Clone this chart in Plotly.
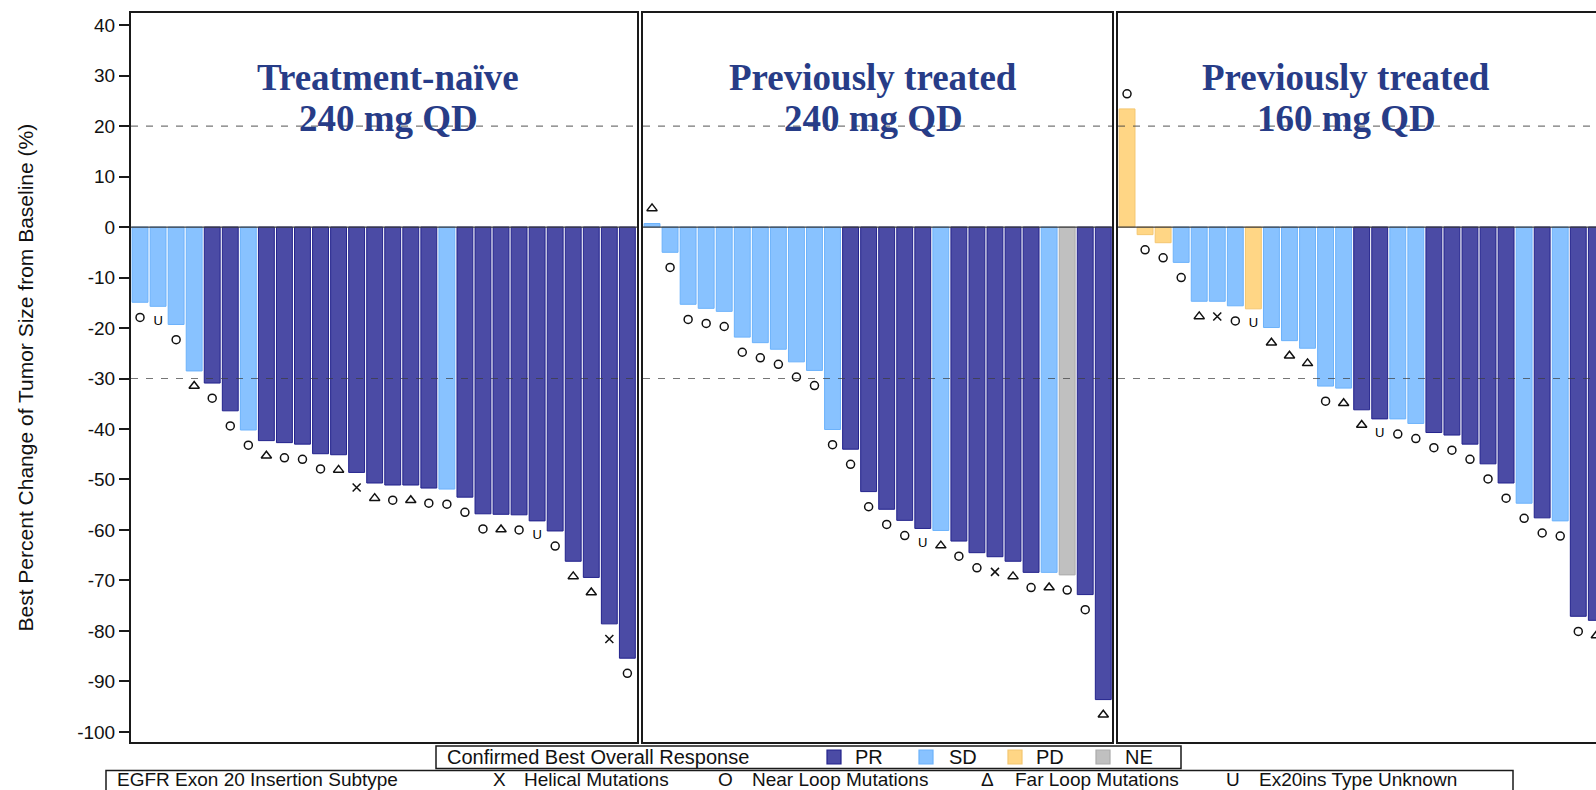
import plotly.graph_objects as go

# ---------------- data ----------------
title_line1 = ["Treatment-naïve", "Previously treated", "Previously treated"]
title_line2 = ["240 mg QD", "240 mg QD", "160 mg QD"]

naive240_change = [-14.9, -15.7, -19.3, -28.5, -30.9, -36.4, -40.2, -42.3, -42.7, -43.0,
                   -44.9, -45.1, -48.6, -50.7, -51.1, -51.1, -51.7, -51.9, -53.5, -56.8,
                   -56.9, -57.0, -58.2, -60.2, -66.2, -69.4, -78.6, -85.4]
naive240_response = ["SD", "SD", "SD", "SD", "PR", "PR", "SD", "PR", "PR", "PR",
                     "PR", "PR", "PR", "PR", "PR", "PR", "PR", "SD", "PR", "PR",
                     "PR", "PR", "PR", "PR", "PR", "PR", "PR", "PR"]
naive240_subtype = ["Near", "Unknown", "Near", "Far", "Near", "Near", "Near", "Far", "Near", "Near",
                    "Near", "Far", "Helical", "Far", "Near", "Far", "Near", "Near", "Near", "Near",
                    "Far", "Near", "Unknown", "Near", "Far", "Far", "Helical", "Near"]

pretx240_change = [0.7, -5.0, -15.3, -16.1, -16.7, -21.8, -22.9, -24.2, -26.7, -28.4,
                   -40.1, -44.0, -52.4, -55.9, -58.1, -59.7, -60.1, -62.2, -64.5, -65.3,
                   -66.2, -68.4, -68.4, -68.9, -72.8, -93.6]
pretx240_response = ["SD", "SD", "SD", "SD", "SD", "SD", "SD", "SD", "SD", "SD",
                     "SD", "PR", "PR", "PR", "PR", "PR", "SD", "PR", "PR", "PR",
                     "PR", "PR", "SD", "NE", "PR", "PR"]
pretx240_subtype = ["Far", "Near", "Near", "Near", "Near", "Near", "Near", "Near", "Near", "Near",
                    "Near", "Near", "Near", "Near", "Near", "Unknown", "Far", "Near", "Near", "Helical",
                    "Far", "Near", "Far", "Near", "Near", "Far"]

pretx160_change = [23.4, -1.5, -3.1, -7.0, -14.7, -14.7, -15.6, -16.2, -19.9, -22.5,
                   -24.0, -31.5, -31.9, -36.2, -38.0, -38.0, -38.9, -40.7, -41.2, -43.0,
                   -46.9, -50.7, -54.7, -57.6, -58.2, -77.1, -77.9]
pretx160_response = ["PD", "PD", "PD", "SD", "SD", "SD", "SD", "PD", "SD", "SD",
                     "SD", "SD", "SD", "PR", "PR", "SD", "SD", "PR", "PR", "PR",
                     "PR", "PR", "SD", "PR", "SD", "PR", "PR"]
pretx160_subtype = ["Near", "Near", "Near", "Near", "Far", "Helical", "Near", "Unknown", "Far", "Far",
                    "Far", "Near", "Far", "Far", "Unknown", "Near", "Near", "Near", "Near", "Near",
                    "Near", "Near", "Near", "Near", "Near", "Near", "Far"]

y_tick_values = [40, 30, 20, 10, 0, -10, -20, -30, -40, -50, -60, -70, -80, -90, -100]
y_tick_labels = ["40", "30", "20", "10", "0", "-10", "-20", "-30", "-40", "-50",
                 "-60", "-70", "-80", "-90", "-100"]
threshold_lines = [20, -30]

response_order = ["PR", "SD", "PD", "NE"]
subtype_order = ["Helical", "Near", "Far", "Unknown"]
subtype_glyph = ["X", "O", "Δ", "U"]
subtype_label = ["Helical Mutations", "Near Loop Mutations", "Far Loop Mutations", "Ex20ins Type Unknown"]

# ---------------- style ----------------
FILL = {"PR": "#4B4BA5", "SD": "#88C2FF", "PD": "#FFD685", "NE": "#C0C0C0"}
EDGE = {"PR": "#22228C", "SD": "#6CB2FB", "PD": "#F4C670", "NE": "#ABABAB"}
SYMBOL = {"Helical": "x-thin-open", "Near": "circle-open", "Far": "triangle-up-open"}
SYM_SIZE = {"Helical": 8, "Near": 8, "Far": 9}
MARKER_GAP = 3.0  # distance (in % units) of the subtype glyph from the bar end
TITLE_COLOR = "#273C87"
SANS = "Liberation Sans, Arial, sans-serif"
SERIF = "Liberation Serif, Times New Roman, serif"

FIG_W, FIG_H = 1596, 790
PLOT_L, PLOT_T, PLOT_B = 131, 13, 742
PLOT_W = FIG_W - PLOT_L
PLOT_H = PLOT_B - PLOT_T
PITCH = 18.05  # pixels per bar slot


def px_x(px):
    return (px - PLOT_L) / PLOT_W


def px_y(py):
    return (PLOT_B - py) / PLOT_H


panel_px = [(131, 637), (643, 1112), (1118, 1596)]
Y_RANGE = [-102.0, 42.4]

panels = [
    (naive240_change, naive240_response, naive240_subtype),
    (pretx240_change, pretx240_response, pretx240_subtype),
    (pretx160_change, pretx160_response, pretx160_subtype),
]

fig = go.Figure()
shapes = []
annotations = []

for k, (change, resp, sub) in enumerate(panels):
    ax = "" if k == 0 else str(k + 1)
    xs = list(range(1, len(change) + 1))
    fig.add_trace(go.Bar(
        x=xs, y=change, width=0.88,
        marker=dict(color=[FILL[r] for r in resp],
                    line=dict(color=[EDGE[r] for r in resp], width=1)),
        xaxis="x" + ax, yaxis="y" + ax, showlegend=False, hoverinfo="x+y"))
    for s in subtype_order:
        idx = [i for i, t in enumerate(sub) if t == s]
        if not idx:
            continue
        sx = [xs[i] for i in idx]
        sy = [change[i] - MARKER_GAP if change[i] < 0 else change[i] + MARKER_GAP for i in idx]
        if s == "Unknown":
            fig.add_trace(go.Scatter(
                x=sx, y=sy, mode="text", text=["U"] * len(sx),
                textposition="middle center",
                textfont=dict(family=SANS, size=13, color="#000000"),
                xaxis="x" + ax, yaxis="y" + ax, showlegend=False))
        else:
            fig.add_trace(go.Scatter(
                x=sx, y=sy, mode="markers",
                marker=dict(symbol=SYMBOL[s], size=SYM_SIZE[s], color="#111111",
                            line=dict(color="#111111", width=1.5)),
                xaxis="x" + ax, yaxis="y" + ax, showlegend=False))

    x0, x1 = panel_px[k]
    n_slots = (x1 - x0) / PITCH
    xaxis = dict(domain=[px_x(x0), px_x(x1)], anchor="y" + ax,
                 range=[0.5, 0.5 + n_slots], showticklabels=False, ticks="",
                 showgrid=False, zeroline=False, showline=True, mirror=True,
                 linecolor="#1a1a1a", linewidth=2)
    yaxis = dict(domain=[0, 1], anchor="x" + ax, range=Y_RANGE,
                 showgrid=False, zeroline=False, showline=True,
                 mirror=(k < 2), linecolor="#1a1a1a", linewidth=2)
    if k == 0:
        yaxis.update(tickmode="array", tickvals=y_tick_values, ticktext=y_tick_labels,
                     ticks="outside", ticklen=10, tickwidth=1.5, tickcolor="#1a1a1a",
                     tickfont=dict(family=SANS, size=19, color="#111111"))
    else:
        yaxis.update(showticklabels=False, ticks="", matches="y")
    fig.update_layout(**{"xaxis" + ax: xaxis, "yaxis" + ax: yaxis})

    # zero line and threshold lines
    shapes.append(dict(type="line", xref="x" + ax + " domain", yref="y" + ax,
                       x0=0, x1=1, y0=0, y1=0, layer="above",
                       line=dict(color="#3a3a3a", width=1.2)))
    for t in threshold_lines:
        shapes.append(dict(type="line", xref="x" + ax + " domain", yref="y" + ax,
                           x0=0, x1=1, y0=t, y1=t, layer="above",
                           line=dict(color="rgba(60,60,60,0.7)", width=1.2, dash="7px,8px")))

# panel titles
title_cx = [388, 873, 1346]
for k in range(3):
    annotations.append(dict(xref="paper", yref="paper", x=px_x(title_cx[k]), y=px_y(77),
                            text="<b>" + title_line1[k] + "</b>", showarrow=False,
                            xanchor="center", yanchor="middle",
                            font=dict(family=SERIF, size=37, color=TITLE_COLOR)))
    annotations.append(dict(xref="paper", yref="paper", x=px_x(title_cx[k]), y=px_y(119),
                            text="<b>" + title_line2[k] + "</b>", showarrow=False,
                            xanchor="center", yanchor="middle",
                            font=dict(family=SERIF, size=37, color=TITLE_COLOR)))

# y-axis title
annotations.append(dict(xref="paper", yref="paper", x=px_x(25), y=0.5, textangle=-90,
                        text="Best Percent Change of Tumor Size from Baseline (%)",
                        showarrow=False, xanchor="center", yanchor="middle",
                        font=dict(family=SANS, size=21, color="#111111")))

# ---------------- legends ----------------
LEG_FONT = dict(family=SANS, size=20, color="#111111")
LEG_FONT2 = dict(family=SANS, size=19, color="#111111")
# response legend box
shapes.append(dict(type="rect", xref="paper", yref="paper",
                   x0=px_x(436), x1=px_x(1181), y0=px_y(746), y1=px_y(768.5),
                   line=dict(color="#1a1a1a", width=1.5), fillcolor="white", layer="above"))
annotations.append(dict(xref="paper", yref="paper", x=px_x(445), y=px_y(757),
                        text="Confirmed Best Overall Response", showarrow=False,
                        xanchor="left", yanchor="middle", font=LEG_FONT))
resp_swatch_x = [827, 919, 1008, 1096]
resp_text_x = [853, 947, 1034, 1123]
for r, sx, tx in zip(response_order, resp_swatch_x, resp_text_x):
    shapes.append(dict(type="rect", xref="paper", yref="paper",
                       x0=px_x(sx), x1=px_x(sx + 14), y0=px_y(750), y1=px_y(764),
                       line=dict(color=EDGE[r], width=1.2),
                       fillcolor=FILL[r], layer="above"))
    annotations.append(dict(xref="paper", yref="paper", x=px_x(tx), y=px_y(757),
                            text=r, showarrow=False, xanchor="left", yanchor="middle",
                            font=LEG_FONT))

# subtype legend box
shapes.append(dict(type="rect", xref="paper", yref="paper",
                   x0=px_x(106), x1=px_x(1513), y0=px_y(770.5), y1=px_y(793),
                   line=dict(color="#1a1a1a", width=1.5), fillcolor="white", layer="above"))
ROW2_Y = 779
annotations.append(dict(xref="paper", yref="paper", x=px_x(115), y=px_y(ROW2_Y),
                        text="EGFR Exon 20 Insertion Subtype", showarrow=False,
                        xanchor="left", yanchor="middle", font=LEG_FONT2))
glyph_cx = [499, 725, 987, 1233]
label_x = [522, 750, 1013, 1257]
for g, lab, gx, lx in zip(subtype_glyph, subtype_label, glyph_cx, label_x):
    annotations.append(dict(xref="paper", yref="paper", x=px_x(gx), y=px_y(ROW2_Y),
                            text=g, showarrow=False, xanchor="center", yanchor="middle",
                            font=LEG_FONT2))
    annotations.append(dict(xref="paper", yref="paper", x=px_x(lx), y=px_y(ROW2_Y),
                            text=lab, showarrow=False, xanchor="left", yanchor="middle",
                            font=LEG_FONT2))

fig.update_layout(
    width=FIG_W, height=FIG_H,
    margin=dict(l=PLOT_L, r=0, t=PLOT_T, b=FIG_H - PLOT_B, pad=0),
    plot_bgcolor="white", paper_bgcolor="white",
    showlegend=False, shapes=shapes, annotations=annotations,
    font=dict(family=SANS, color="#111111"),
)

fig.write_html("out.html", config={"displayModeBar": False},
               post_script="document.body.style.margin='0';document.body.style.overflow='hidden';")
